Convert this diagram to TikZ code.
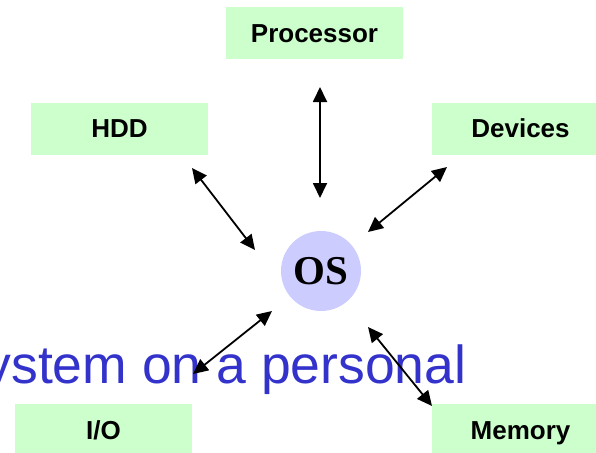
\documentclass[tikz,border=0pt]{standalone}
\usepackage{fontspec}
\setmainfont{Liberation Sans}
\newfontfamily\osfont{Liberation Serif}
\usetikzlibrary{arrows.meta}
\definecolor{boxgreen}{HTML}{CCFFCC}
\definecolor{oslilac}{HTML}{CCCCFF}
\definecolor{captionblue}{HTML}{3333CC}
\begin{document}
\begin{tikzpicture}[x=1pt,y=-1pt,
  unit/.style={fill=boxgreen, minimum width=177pt, minimum height=52pt,
    inner sep=0pt, text height=18.6pt, text depth=0pt,
    font=\fontsize{26}{30}\selectfont\bfseries},
  link/.style={line width=1.8pt,
    {Triangle[length=15pt,width=14pt]}-{Triangle[length=15pt,width=14pt]}},
]
\clip (0,0) rectangle (596,452);

% background caption text, partly hidden under the arrows
\node[anchor=base east, inner sep=0pt, text=captionblue,
  font=\fontsize{53.5}{60}\selectfont] (caption) at (466.5,383) {ystem on a personal};

% components
\node[unit] (proc) at (314.5,33) {Processor};
\node[unit] (hdd) at (119.5,128.5) {HDD};
\node[unit] (dev) at (520.5,128.5) {Devices};
\node[unit] (io) at (103.5,430) {I/O};
\node[unit] (mem) at (520.5,430) {Memory};

% operating system in the middle
\node[circle, fill=oslilac, minimum size=80pt, inner sep=0pt,
  font=\osfont\fontsize{41}{45}\selectfont\bfseries] (os) at (321,271) {OS};

% arrow end points
\coordinate (proc-end) at (320,87);
\coordinate (os-proc) at (320,198);
\coordinate (hdd-end) at (192,168);
\coordinate (os-hdd) at (255,250);
\coordinate (dev-end) at (447,167);
\coordinate (os-dev) at (368,232);
\coordinate (io-end) at (193,374);
\coordinate (os-io) at (272,311);
\coordinate (mem-end) at (432,406);
\coordinate (os-mem) at (368,327);

\draw[link] (proc-end) -- (os-proc);
\draw[link] (hdd-end) -- (os-hdd);
\draw[link] (dev-end) -- (os-dev);
\draw[link] (io-end) -- (os-io);
\draw[link] (mem-end) -- (os-mem);
\end{tikzpicture}
\end{document}
